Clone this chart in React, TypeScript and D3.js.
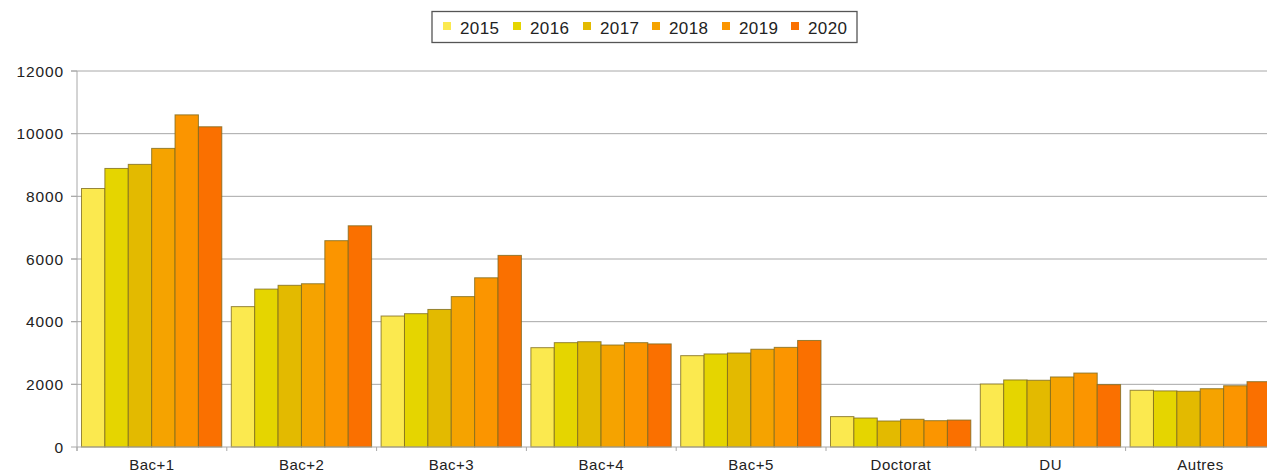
import React, { useEffect, useRef } from "react";
import * as d3 from "d3";

const categories = ["Bac+1", "Bac+2", "Bac+3", "Bac+4", "Bac+5", "Doctorat", "DU", "Autres"];
const years = ["2015", "2016", "2017", "2018", "2019", "2020"];
const v2015 = [8250, 4480, 4180, 3170, 2915, 970, 2010, 1810];
const v2016 = [8890, 5040, 4255, 3330, 2970, 925, 2140, 1790];
const v2017 = [9020, 5160, 4390, 3360, 3000, 830, 2130, 1780];
const v2018 = [9530, 5210, 4800, 3255, 3120, 885, 2235, 1860];
const v2019 = [10600, 6585, 5400, 3330, 3180, 840, 2360, 1955];
const v2020 = [10220, 7060, 6115, 3290, 3400, 860, 1990, 2085];
const seriesValues = [v2015, v2016, v2017, v2018, v2019, v2020];
const colors = ["#FBE94F", "#E5D500", "#E3BA00", "#F5A300", "#FB9500", "#FA7000"];
const yTicks = [0, 2000, 4000, 6000, 8000, 10000, 12000];

export default function App() {
  const ref = useRef<SVGSVGElement>(null);
  useEffect(() => {
    const svg = d3.select(ref.current);
    svg.selectAll("*").remove();
    const W = 1267, H = 472;
    const x0 = 77, y0 = 447, yTop = 71;
    const catW = 149.8;
    const x = d3.scaleBand<string>().domain(categories).range([x0, x0 + catW * categories.length]).paddingInner(0).paddingOuter(0);
    const x1 = d3.scaleBand<string>().domain(years).range([4.5, catW - 5]);
    const y = d3.scaleLinear().domain([0, 12000]).range([y0, yTop]);
    const font = "'Liberation Sans', Arial, sans-serif";

    svg.append("rect").attr("width", W).attr("height", H).attr("fill", "#fff");

    // gridlines
    svg.append("g").selectAll("line").data(yTicks.filter(t => t > 0)).join("line")
      .attr("x1", 71).attr("x2", W).attr("y1", d => y(d)).attr("y2", d => y(d))
      .attr("stroke", "#a8a8a8").attr("stroke-width", 1);

    // y axis labels & ticks
    const ya = svg.append("g");
    ya.selectAll("text").data(yTicks).join("text")
      .attr("x", 64).attr("y", d => y(d)).attr("dy", "0.36em").attr("text-anchor", "end")
      .attr("font-family", font).attr("font-size", 15.5).attr("letter-spacing", 0.9)
      .attr("fill", "#222").text(d => String(d));
    ya.selectAll("line").data(yTicks).join("line")
      .attr("x1", 71).attr("x2", 77).attr("y1", d => y(d)).attr("y2", d => y(d))
      .attr("stroke", "#a8a8a8");

    // bars
    const g = svg.append("g");
    categories.forEach((c, ci) => {
      seriesValues.forEach((vals, si) => {
        const bx = (x(c) as number) + (x1(years[si]) as number);
        g.append("rect")
          .attr("x", bx).attr("y", y(vals[ci]))
          .attr("width", x1.bandwidth()).attr("height", y0 - y(vals[ci]))
          .attr("fill", colors[si]).attr("stroke", "#7d6a1e").attr("stroke-opacity", 0.8).attr("stroke-width", 1);
      });
    });

    // axes lines
    svg.append("line").attr("x1", x0).attr("x2", x0).attr("y1", yTop).attr("y2", y0 + 4).attr("stroke", "#a8a8a8");
    svg.append("line").attr("x1", x0).attr("x2", W).attr("y1", y0).attr("y2", y0).attr("stroke", "#a8a8a8");
    svg.append("g").selectAll("line").data(categories).join("line")
      .attr("x1", d => x(d) as number).attr("x2", d => x(d) as number)
      .attr("y1", y0).attr("y2", y0 + 4).attr("stroke", "#a8a8a8");

    // x labels
    svg.append("g").selectAll("text").data(categories).join("text")
      .attr("x", d => (x(d) as number) + catW / 2).attr("y", 469.5).attr("text-anchor", "middle")
      .attr("font-family", font).attr("font-size", 15).attr("letter-spacing", 0.5)
      .attr("fill", "#222").text(d => d);

    // legend
    const lg = svg.append("g");
    lg.append("rect").attr("x", 432).attr("y", 11.5).attr("width", 425).attr("height", 31)
      .attr("fill", "#fff").attr("stroke", "#555").attr("stroke-width", 1.3);
    const itemX = [443, 513, 583, 652, 722, 791];
    years.forEach((yr, i) => {
      lg.append("rect").attr("x", itemX[i]).attr("y", 22).attr("width", 8).attr("height", 8).attr("fill", colors[i]);
      lg.append("text").attr("x", itemX[i] + 17).attr("y", 33.5).attr("font-family", font)
        .attr("font-size", 17).attr("letter-spacing", 0.4).attr("fill", "#222").text(yr);
    });
  }, []);
  return (
    <div style={{ position: "absolute", left: 0, top: 0 }}>
      <svg ref={ref} width={1267} height={472} style={{ display: "block" }} />
    </div>
  );
}
